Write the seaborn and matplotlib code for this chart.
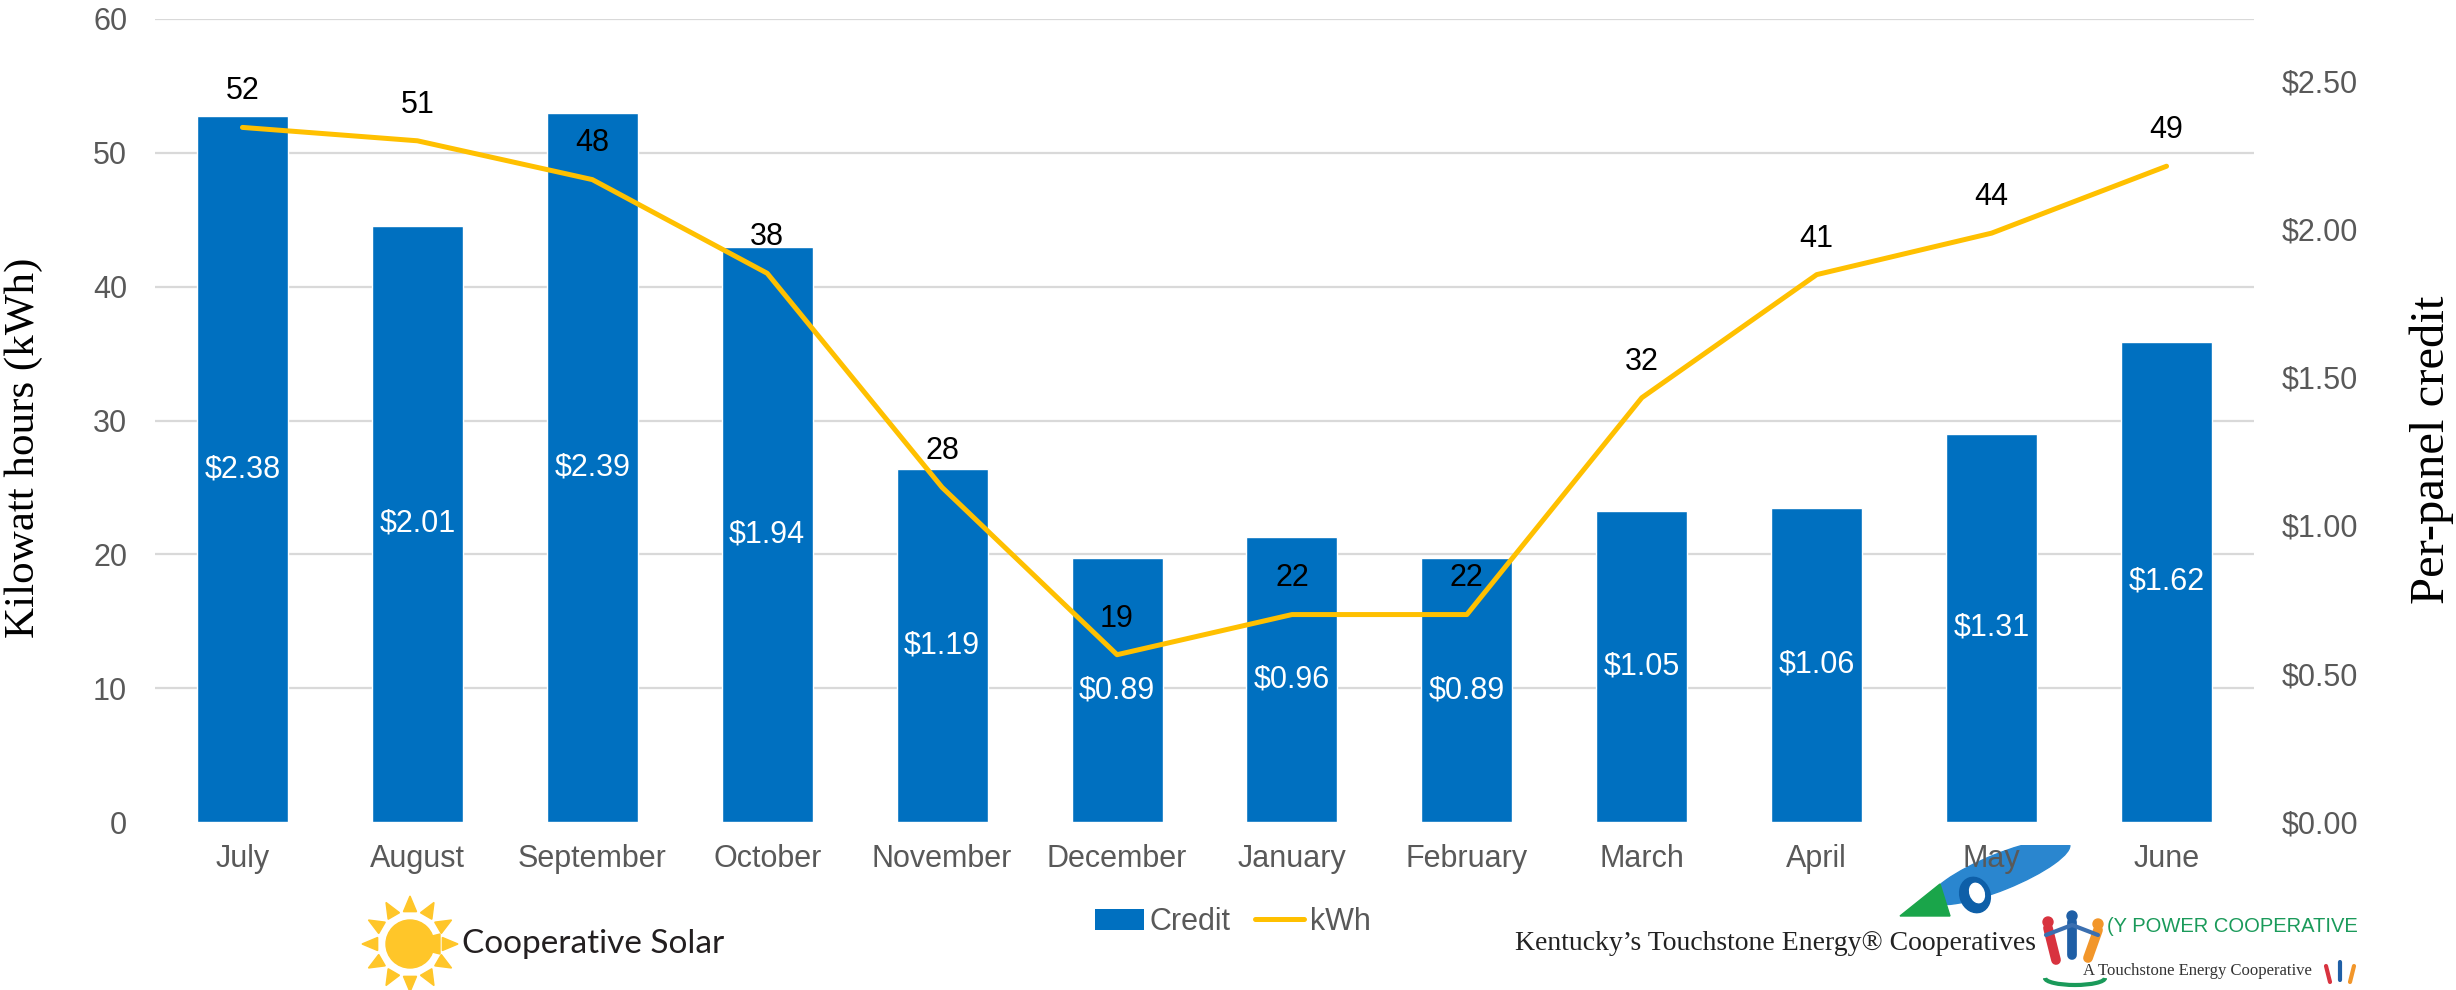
import numpy as np
import matplotlib
matplotlib.use("Agg")
import matplotlib.pyplot as plt
import seaborn as sns
from matplotlib.patches import Patch, Circle, Ellipse, Polygon, Arc
from matplotlib.lines import Line2D

months = ['July', 'August', 'September', 'October', 'November', 'December',
          'January', 'February', 'March', 'April', 'May', 'June']
credit = [2.38, 2.01, 2.39, 1.94, 1.19, 0.89, 0.96, 0.89, 1.05, 1.06, 1.31, 1.62]
kwh_line = [51.9, 50.9, 48.0, 41.0, 25.0, 12.5, 15.5, 15.5, 31.7, 40.9, 44.0, 49.0]
kwh_labels = [52, 51, 48, 38, 28, 19, 22, 22, 32, 41, 44, 49]
kwh_ticks = [0, 10, 20, 30, 40, 50, 60]
credit_ticks = [0.0, 0.5, 1.0, 1.5, 2.0, 2.5]

BLUE = '#0070C0'
GOLD = '#FFC000'
GRID = '#D9D9D9'
GREY = '#595959'

W, H = 2456, 990

sns.set_theme(style="white")
plt.rcParams['font.family'] = ['Liberation Sans', 'DejaVu Sans']

fig = plt.figure(figsize=(W / 100, H / 100), dpi=100)
fig.patch.set_facecolor('white')


def fx(px):
    return px / W


def fy(py):
    return 1 - py / H


# bars (credit, right scale) in the lower axes, line (kWh, left scale) on top
ax2 = fig.add_axes([fx(155), fy(822), fx(2254) - fx(155), fy(19) - fy(822)])
ax = ax2.twinx()
ax.set_zorder(ax2.get_zorder() + 1)
ax.patch.set_visible(False)
ax2.patch.set_visible(True)
ax2.patch.set_facecolor('white')

credit_max = 2.708
sns.barplot(x=months, y=credit, ax=ax2, color=BLUE, saturation=1, width=0.52)
ax2.set_ylim(0, credit_max)
ax2.set_xlim(-0.5, 11.5)

# gridlines on the kWh scale, drawn behind the bars
ax2.set_yticks([k * credit_max / 60 for k in kwh_ticks], minor=True)
ax2.grid(which='minor', axis='y', color=GRID, lw=1.6)
ax2.grid(which='major', visible=False)
ax2.set_axisbelow(True)
ax2.set_yticks(credit_ticks)
ax2.set_yticklabels([f'${v:.2f}' for v in credit_ticks])
ax2.yaxis.tick_right()
ax2.tick_params(axis='y', which='both', length=0, labelsize=22, labelcolor=GREY, pad=20)
ax2.tick_params(axis='x', which='both', length=0, labelbottom=False)
ax2.set_ylabel('')
ax2.set_xlabel('')

for i, v in enumerate(credit):
    ax2.text(i, v / 2, f'${v:.2f}', color='white', ha='center', va='center', fontsize=22)

sns.lineplot(x=np.arange(len(months)), y=kwh_line, ax=ax, color=GOLD, lw=3.6,
             sort=False, solid_capstyle='round')
ax.set_ylim(0, 60)
ax.set_yticks(kwh_ticks)
ax.yaxis.tick_left()
ax.tick_params(axis='y', length=0, labelsize=22, labelcolor=GREY, pad=20)
ax.set_xlim(-0.5, 11.5)
ax.xaxis.set_visible(True)
ax.set_xticks(range(len(months)))
ax.set_xticklabels(months)
ax.tick_params(axis='x', length=0, labelsize=22, labelcolor=GREY, pad=16, labelbottom=True)
ax.set_ylabel('')
ax.set_xlabel('')
for i, (v, lab) in enumerate(zip(kwh_line, kwh_labels)):
    ax.annotate(str(lab), (i, v), xytext=(0, 26), textcoords='offset points',
                ha='center', va='center', fontsize=22, color='black')

for a in (ax, ax2):
    for s in a.spines.values():
        s.set_visible(False)

fig.text(fx(24), fy(448), 'Kilowatt hours (kWh)', rotation=90, ha='center', va='center',
         fontsize=31, family='Liberation Serif', color='black')
fig.text(fx(2432), fy(450), 'Per-panel credit', rotation=90, ha='center', va='center',
         fontsize=35, family='Liberation Serif', color='black')

handles = [Patch(facecolor=BLUE, edgecolor='none', label='Credit'),
           Line2D([0], [0], color=GOLD, lw=3.6, solid_capstyle='round', label='kWh')]
fig.legend(handles=handles, loc='center', bbox_to_anchor=(fx(1233), fy(922)), ncol=2,
           frameon=False, fontsize=22, labelcolor=GREY, handlelength=1.6, handleheight=0.7,
           handletextpad=0.2, columnspacing=0.8)

# logo: Cooperative Solar
lg = fig.add_axes([fx(355), fy(999), fx(110), fy(889) - fy(999)])
lg.set_xlim(-55, 55)
lg.set_ylim(-55, 55)
lg.set_aspect('equal')
lg.axis('off')
lg.add_patch(Circle((0, 0), 24, color='#FFC629'))
for k in range(12):
    t = np.pi / 2 + k * np.pi / 6
    tip = (48 * np.cos(t), 48 * np.sin(t))
    b1 = (33 * np.cos(t - 0.2), 33 * np.sin(t - 0.2))
    b2 = (33 * np.cos(t + 0.2), 33 * np.sin(t + 0.2))
    lg.add_patch(Polygon([tip, b1, b2], color='#FFC629'))
lg.add_patch(Polygon([(14, 6), (30, 10), (30, -10), (14, -6)], color='#FFC629'))
fig.text(fx(462), fy(944), 'Cooperative Solar', ha='left', va='center', fontsize=24,
         family='Lato', color='#231F20')

# logo: Kentucky's Touchstone Energy Cooperatives / power cooperative
kl = fig.add_axes([fx(1890), fy(990), fx(2460) - fx(1890), fy(845) - fy(990)])
kl.set_xlim(1890, 2460)
kl.set_ylim(990, 845)
kl.set_aspect('equal')
kl.axis('off')
kl.add_patch(Ellipse((2000, 872), 150, 36, angle=-22, color='#2A86CF'))
kl.add_patch(Polygon([(1900, 916), (1940, 884), (1950, 916)], color='#1AA54A'))
kl.add_patch(Ellipse((1975, 895), 30, 36, angle=-20, color='#0E5FA8'))
kl.add_patch(Ellipse((1977, 893), 14, 20, angle=-20, color='white'))
# touchstone people
for (x0, y0, x1, y1, c) in [(2056, 960, 2048, 928, '#D8333F'), (2072, 955, 2072, 922, '#1F5FA6'),
                            (2088, 958, 2098, 930, '#F2962A')]:
    kl.plot([x0, x1], [y0, y1], color=c, lw=7, solid_capstyle='round')
    kl.add_patch(Circle((x1, y1 - 6), 5, color=c))
kl.plot([2046, 2072, 2098], [935, 925, 935], color='#3A6FB0', lw=3)
kl.add_patch(Arc((2075, 978), 60, 14, theta1=0, theta2=180, color='#1A9A5A', lw=3))
for (x0, y0, x1, y1, c) in [(2330, 982, 2326, 966, '#D8333F'), (2340, 980, 2340, 962, '#1F5FA6'),
                            (2350, 982, 2354, 966, '#F2962A')]:
    kl.plot([x0, x1], [y0, y1], color=c, lw=3, solid_capstyle='round')

fig.text(fx(1515), fy(944), "Kentucky\u2019s Touchstone Energy\u00ae Cooperatives", ha='left',
         va='center', fontsize=20, family='Liberation Serif', color='#222222')
fig.text(fx(2107), fy(926), '(Y POWER COOPERATIVE', ha='left', va='center', fontsize=14.5,
         family='Liberation Sans', color='#1A9A5A')
fig.text(fx(2083), fy(971), 'A Touchstone Energy Cooperative', ha='left', va='center',
         fontsize=12, family='Liberation Serif', color='#333333')

fig.savefig('out.png', dpi=100, facecolor='white')
